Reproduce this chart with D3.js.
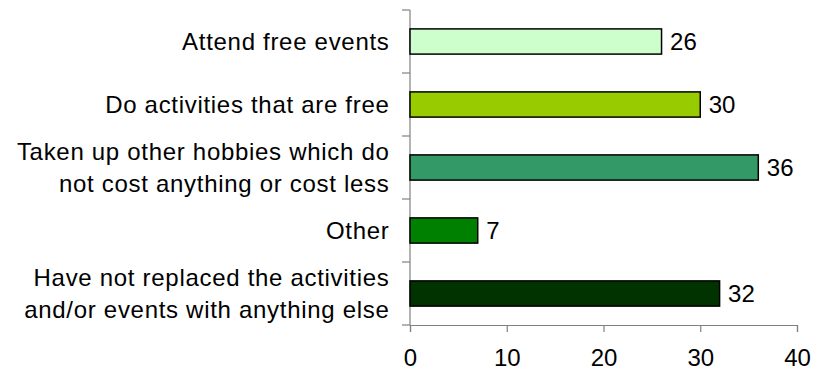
<!DOCTYPE html>
<html>
<head>
<meta charset="utf-8">
<script src="https://cdn.jsdelivr.net/npm/d3@7"></script>
<style>
  html, body { margin: 0; padding: 0; background: #fff; }
  svg { display: block; font-family: "Liberation Sans", Arial, sans-serif; }
</style>
</head>
<body>
<svg id="chart" width="813" height="370"></svg>
<script>
// Ways of replacing paid activities (%)
const categories = [
  ["Attend free events"],
  ["Do activities that are free"],
  ["Taken up other hobbies which do", "not cost anything or cost less"],
  ["Other"],
  ["Have not replaced the activities", "and/or events with anything else"]
];
const values = [26, 30, 36, 7, 32];
const colors = ["#ccffcc", "#99cc00", "#339966", "#008000", "#003300"];
const xTicks = [0, 10, 20, 30, 40];

const svg = d3.select("#chart");
const plotLeft = 410, plotRight = 797, plotTop = 10, plotBottom = 325;

const x = d3.scaleLinear().domain([0, 40]).range([plotLeft, plotRight]);
const y = d3.scaleBand()
  .domain(d3.range(categories.length))
  .range([plotTop, plotBottom])
  .paddingInner(0.6)
  .paddingOuter(0.3);

// category tick marks on the vertical axis (band boundaries)
const step = y.step();
const boundaries = d3.range(categories.length + 1).map(i => plotTop + i * step);
svg.append("g").selectAll("line").data(boundaries).join("line")
  .attr("x1", plotLeft - 8).attr("x2", plotLeft)
  .attr("y1", d => d).attr("y2", d => d)
  .attr("stroke", "#808080").attr("stroke-width", 1.2);

// vertical axis line
svg.append("line")
  .attr("x1", plotLeft).attr("x2", plotLeft)
  .attr("y1", plotTop).attr("y2", plotBottom)
  .attr("stroke", "#808080").attr("stroke-width", 1.2);

// horizontal axis
const xAxis = d3.axisBottom(x).tickValues(xTicks).tickSize(7).tickPadding(17);
const gx = svg.append("g").attr("transform", `translate(0,${plotBottom})`).call(xAxis);
gx.select(".domain").attr("stroke", "#808080").attr("stroke-width", 1.2);
gx.selectAll(".tick line").attr("stroke", "#808080").attr("stroke-width", 1.2);
gx.selectAll(".tick text").attr("fill", "#000").attr("font-size", 24)
  .attr("font-family", "Liberation Sans, Arial, sans-serif");

// bars
svg.append("g").selectAll("rect").data(values).join("rect")
  .attr("x", x(0))
  .attr("y", (d, i) => y(i))
  .attr("width", d => x(d) - x(0))
  .attr("height", y.bandwidth())
  .attr("fill", (d, i) => colors[i])
  .attr("stroke", "#000")
  .attr("stroke-width", 1.5);

// value labels
svg.append("g").selectAll("text").data(values).join("text")
  .attr("x", d => x(d) + 8.5)
  .attr("y", (d, i) => y(i) + y.bandwidth() / 2)
  .attr("dy", "0.36em")
  .attr("font-size", 24)
  .attr("fill", "#000")
  .text(d => d);

// category labels
const lineH = 31.5;
const lbl = svg.append("g").selectAll("text").data(categories).join("text")
  .attr("text-anchor", "end")
  .attr("font-size", 24)
  .attr("letter-spacing", 0.7)
  .attr("fill", "#000");
lbl.each(function(lines, i) {
  const cy = y(i) + y.bandwidth() / 2;
  const y0 = cy - (lines.length - 1) * lineH / 2;
  d3.select(this).selectAll("tspan").data(lines).join("tspan")
    .attr("x", 389.5)
    .attr("y", (d, j) => y0 + j * lineH)
    .attr("dy", "0.36em")
    .text(d => d);
});
</script>
</body>
</html>
